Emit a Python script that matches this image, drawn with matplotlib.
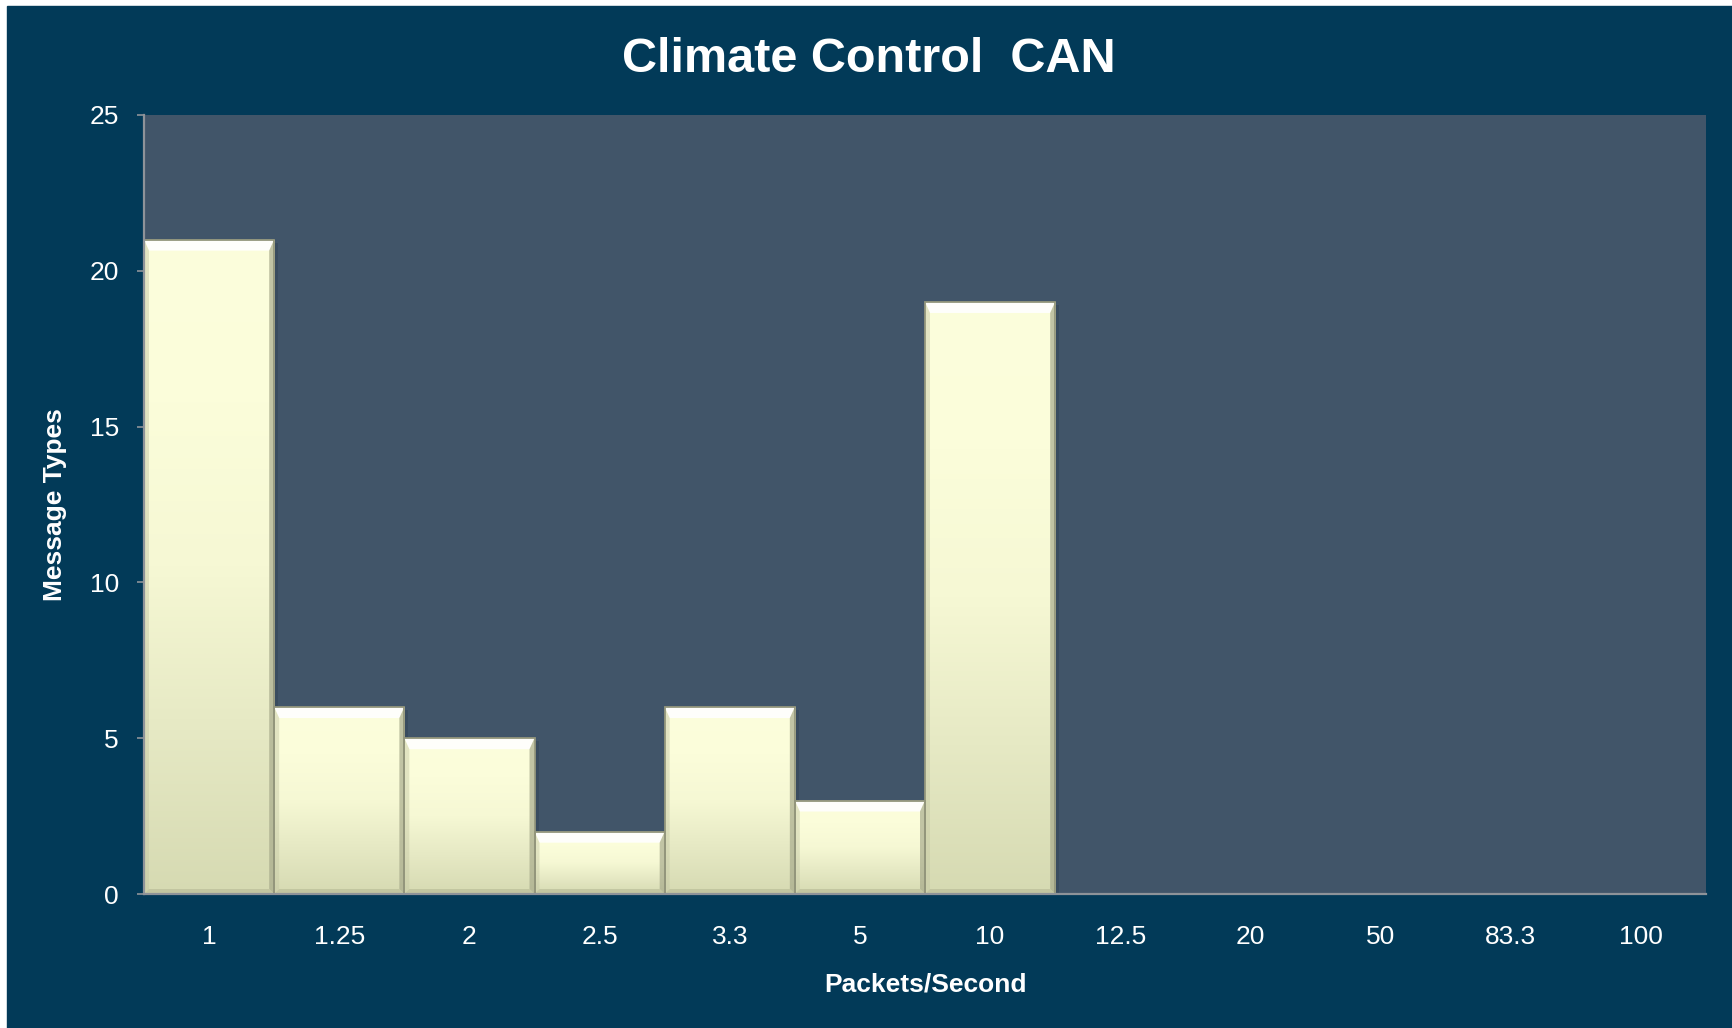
import numpy as np
import matplotlib
matplotlib.use("Agg")
import matplotlib.pyplot as plt
from matplotlib.patches import Rectangle, Polygon
from matplotlib.colors import LinearSegmentedColormap

plt.rcParams["font.family"] = ["Liberation Sans", "DejaVu Sans"]

# message type counts per transmit rate
rates = ["1", "1.25", "2", "2.5", "3.3", "5", "10", "12.5", "20", "50", "83.3", "100"]
counts = [21, 6, 5, 2, 6, 3, 19, 0, 0, 0, 0, 0]
y_ticks = [0, 5, 10, 15, 20, 25]

NAVY = "#023a58"
PANEL = "#415569"
AXIS_GREY = "#8e9399"

W, H = 1732, 1028
fig = plt.figure(figsize=(W / 100, H / 100), dpi=100, facecolor="white")
fig.add_artist(Rectangle((7 / W, 0), 1 - 7 / W, 1 - 6 / H,
                         transform=fig.transFigure, color=NAVY, zorder=-10))

ax = fig.add_axes([144 / W, 1 - 894 / H, (1706 - 144) / W, (894 - 115) / H])
ax.set_facecolor(PANEL)

x = np.arange(len(rates))
ax.set_xlim(-0.5, len(rates) - 0.5)
ax.set_ylim(0, 25)

bars = ax.bar(x, counts, width=1.0, color="none", edgecolor="#93967c",
              linewidth=1.3, zorder=4)

# pixel -> data sizes for the bevel
px_x = (len(rates)) / (1706 - 144)
px_y = 25 / (894 - 115)

grad = LinearSegmentedColormap.from_list(
    "cream", ["#d6dab2", "#e6e9c4", "#f6f8d4", "#fbfdda", "#fcfedc"])
g = np.linspace(0, 1, 256).reshape(-1, 1)

for b in bars:
    h = b.get_height()
    if h <= 0:
        continue
    x0 = b.get_x()
    x1 = x0 + b.get_width()
    # soft shadow to the right
    ax.add_patch(Rectangle((x1, 0), 4 * px_x, h - 3 * px_y, color="#2c3d4e",
                           alpha=0.35, lw=0, zorder=2))
    im = ax.imshow(g, extent=(x0, x1, 0, h), origin="lower", cmap=grad,
                   aspect="auto", zorder=3, interpolation="bicubic")
    im.set_clip_path(b)
    bx, bt, bb = 5 * px_x, 11 * px_y, 5 * px_y
    # top highlight
    ax.add_patch(Polygon([(x0, h), (x1, h), (x1 - bx, h - bt), (x0 + bx, h - bt)],
                         closed=True, color="white", alpha=0.9, lw=0, zorder=3.5))
    # right edge
    ax.add_patch(Polygon([(x1, h), (x1, 0), (x1 - bx, bb), (x1 - bx, h - bt)],
                         closed=True, color="#a3a688", alpha=0.65, lw=0, zorder=3.5))
    # left edge
    ax.add_patch(Polygon([(x0, h), (x0, 0), (x0 + bx, bb), (x0 + bx, h - bt)],
                         closed=True, color="#c4c7a4", alpha=0.45, lw=0, zorder=3.5))
    # bottom edge
    ax.add_patch(Polygon([(x0, 0), (x1, 0), (x1 - bx, bb), (x0 + bx, bb)],
                         closed=True, color="#b5b894", alpha=0.6, lw=0, zorder=3.5))

for side in ["top", "right"]:
    ax.spines[side].set_visible(False)
for side in ["left", "bottom"]:
    ax.spines[side].set_color(AXIS_GREY)
    ax.spines[side].set_linewidth(1.6)
    ax.spines[side].set_zorder(5)

ax.set_yticks(y_ticks)
ax.set_xticks(x)
ax.set_xticklabels(rates)
ax.tick_params(axis="y", direction="out", length=5, width=1.2, color=AXIS_GREY,
               labelcolor="white", labelsize=19, pad=13)
ax.tick_params(axis="x", length=0, labelcolor="white", labelsize=19, pad=22.5)

fig.text(869 / W, 1 - 59 / H, "Climate Control  CAN", color="white",
         fontsize=35, fontweight="bold", ha="center", va="center")
fig.text(925 / W, 1 - 985 / H, "Packets/Second", color="white",
         fontsize=19, fontweight="bold", ha="center", va="center")
fig.text(55 / W, 1 - 505 / H, "Message Types", color="white", rotation=90,
         fontsize=19, fontweight="bold", ha="center", va="center")

fig.savefig("out.png", dpi=100, facecolor=fig.get_facecolor())
